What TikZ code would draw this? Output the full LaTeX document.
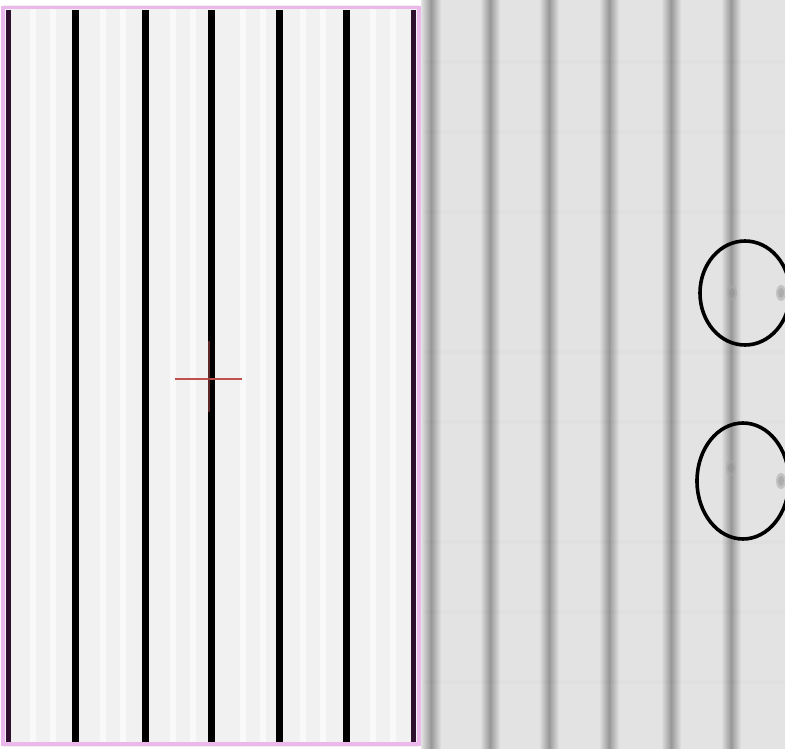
\documentclass[tikz,border=0pt]{standalone}
\usetikzlibrary{shapes.geometric}
\definecolor{leftbg}{HTML}{F1F1F1}
\definecolor{rightbg}{HTML}{E3E3E3}
\definecolor{framepink}{HTML}{EBB8EB}
\definecolor{edgepurple}{HTML}{2E0F2E}
\definecolor{blurline}{HTML}{989898}
\definecolor{spotgray}{HTML}{A8A8A8}
\definecolor{crossred}{HTML}{C0504D}
\tikzset{
  blackline/.style={line width=7pt, black},
  edgeline/.style={line width=5pt, edgepurple},
  ringline/.style={line width=3.6pt, black},
}
\begin{document}
\begin{tikzpicture}[x=1pt,y=-1pt]
\useasboundingbox (0,0) rectangle (785,749);
\fill[white] (0,0) rectangle (785,749);
% left panel
\fill[leftbg] (3,5) rectangle (419,747);
\foreach \x in {30,50,100,120,170,190,240,260,300,320,370,390}{
  \fill[white!60!leftbg] (\x,9) rectangle ++(6,734);
}
\draw[framepink, line width=3.5pt] (3,7.5) rectangle (419,744);
\foreach \x in {75,145,211,279,346}{
  \draw[blackline] (\x,10) -- (\x,742);
}
\draw[edgeline] (8,10) -- (8,742);
\draw[edgeline] (413,10) -- (413,742);
% red cross
\draw[crossred, line width=1.3pt] (175,379) -- (242,379);
\draw[crossred!70!black, line width=1.3pt, opacity=0.7] (209,341) -- (209,412);
% right panel
\fill[rightbg] (423,0) rectangle (785,749);
\foreach \x in {431,490,549,609,671,731}{
  \shade[left color=rightbg, right color=rightbg, middle color=blurline] (\x-10,0) rectangle (\x+10,749);
}
\foreach \y in {60,130,210,350,420,540,610,680}{
  \fill[black, opacity=0.012] (423,\y) rectangle (785,\y+4);
}
% dark spots
\foreach \p in {(732,293),(781,293),(731,468),(781,481)}{
  \fill[spotgray, opacity=0.55] \p ellipse (5 and 8);
  \fill[spotgray!80!black, opacity=0.35] \p ellipse (3 and 5);
}
% rings
\draw[ringline] (745,293) ellipse (45 and 52);
\draw[ringline] (743,481) ellipse (46 and 58);
\end{tikzpicture}
\end{document}
